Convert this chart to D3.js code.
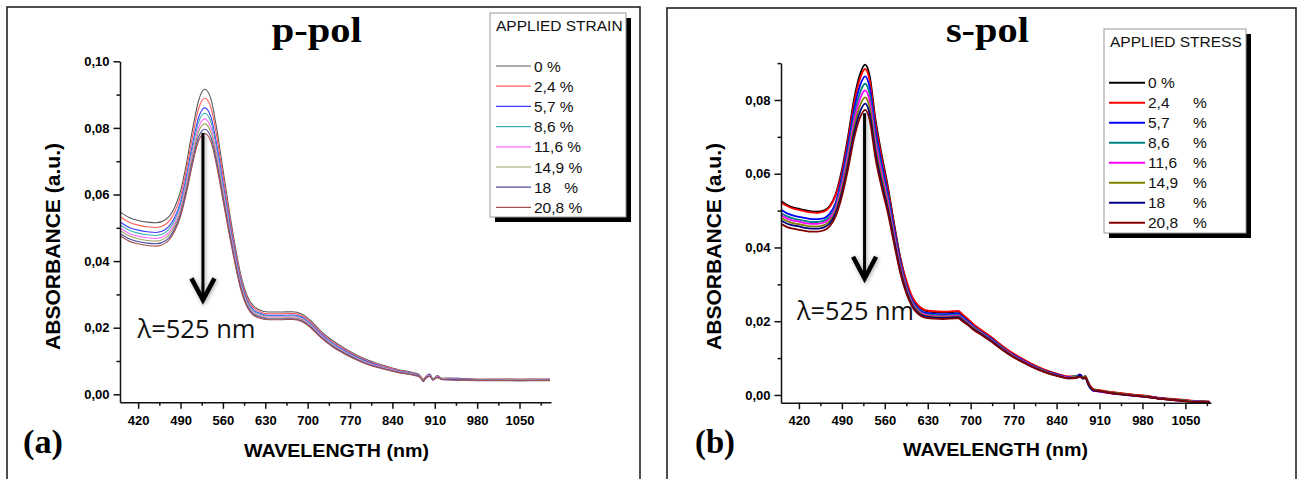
<!DOCTYPE html>
<html><head><meta charset="utf-8">
<script src="https://cdn.jsdelivr.net/npm/d3@7"></script>
<style>body{margin:0;background:#fff}svg{display:block}</style>
</head><body>
<svg id="c" width="1299" height="479"></svg>
<script>
// ---------- p-pol (a) ----------
const P_WL = [390,405,420,435,450,465,480,490,500,510,520,530,540,550,560,570,580,590,600,610,620,635,655,675,690,705,720,740,760,780,800,825,850,875,885,891,896,902,907,914,922,935,960,990,1020,1050,1080,1100];
const P_0   = [.0548,.0531,.0522,.0517,.0515,.0524,.0560,.0610,.0695,.0797,.0883,.0916,.0888,.0795,.0676,.0557,.0448,.0355,.0296,.0266,.0254,.0247,.0247,.0248,.0241,.0221,.0193,.0163,.0139,.0119,.0102,.0087,.0074,.0065,.0058,.0043,.0055,.0061,.0043,.0056,.0048,.0049,.0047,.0045,.0046,.0045,.0046,.0046];
const P_2_4 = [.0534,.0517,.0508,.0503,.0501,.0510,.0546,.0595,.0677,.0776,.0859,.0889,.0862,.0773,.0658,.0543,.0437,.0346,.0289,.0260,.0249,.0242,.0242,.0243,.0237,.0217,.0189,.0159,.0136,.0116,.0099,.0085,.0072,.0063,.0057,.0047,.0052,.0058,.0046,.0054,.0047,.0048,.0046,.0045,.0045,.0045,.0045,.0045];
const P_5_7 = [.0518,.0501,.0493,.0488,.0486,.0495,.0530,.0578,.0658,.0753,.0832,.0860,.0834,.0748,.0637,.0527,.0425,.0337,.0282,.0254,.0244,.0237,.0237,.0238,.0232,.0212,.0185,.0155,.0132,.0113,.0097,.0082,.0070,.0062,.0056,.0040,.0053,.0059,.0044,.0053,.0046,.0047,.0045,.0044,.0044,.0044,.0044,.0045];
const P_8_6 = [.0509,.0493,.0484,.0479,.0477,.0486,.0522,.0569,.0648,.0741,.0818,.0844,.0819,.0735,.0626,.0518,.0418,.0332,.0278,.0251,.0241,.0235,.0235,.0236,.0229,.0210,.0182,.0153,.0130,.0111,.0095,.0081,.0069,.0061,.0055,.0045,.0050,.0055,.0047,.0052,.0047,.0046,.0045,.0043,.0044,.0043,.0044,.0044];
const P_11_6= [.0500,.0483,.0475,.0470,.0468,.0477,.0512,.0559,.0636,.0727,.0802,.0827,.0802,.0720,.0614,.0509,.0411,.0326,.0273,.0247,.0237,.0232,.0232,.0233,.0226,.0207,.0180,.0150,.0128,.0109,.0093,.0080,.0068,.0060,.0055,.0042,.0054,.0057,.0042,.0054,.0045,.0046,.0044,.0042,.0043,.0042,.0043,.0043];
const P_14_9= [.0492,.0476,.0467,.0462,.0460,.0469,.0505,.0551,.0626,.0716,.0789,.0812,.0788,.0708,.0604,.0501,.0404,.0322,.0270,.0244,.0235,.0229,.0229,.0230,.0224,.0205,.0177,.0148,.0126,.0107,.0092,.0078,.0067,.0059,.0054,.0044,.0051,.0056,.0045,.0051,.0046,.0045,.0043,.0043,.0042,.0043,.0042,.0043];
const P_18  = [.0483,.0467,.0459,.0454,.0452,.0461,.0496,.0542,.0616,.0703,.0774,.0796,.0773,.0694,.0593,.0492,.0398,.0316,.0265,.0241,.0232,.0226,.0226,.0227,.0221,.0202,.0175,.0146,.0124,.0106,.0090,.0077,.0066,.0058,.0053,.0038,.0052,.0054,.0043,.0052,.0044,.0044,.0043,.0042,.0042,.0041,.0042,.0042];
const P_20_8= [.0476,.0460,.0452,.0447,.0445,.0454,.0489,.0534,.0607,.0693,.0762,.0783,.0760,.0683,.0584,.0485,.0392,.0312,.0262,.0238,.0229,.0224,.0224,.0225,.0219,.0200,.0173,.0144,.0122,.0104,.0089,.0076,.0065,.0057,.0052,.0041,.0049,.0055,.0044,.0050,.0045,.0043,.0042,.0041,.0041,.0041,.0041,.0041];

// ---------- s-pol (b) ----------
const S_WL = [391,400,410,420,430,440,450,460,470,480,490,500,510,520,528,535,545,555,565,575,585,595,605,615,625,640,655,670,680,685,695,705,720,735,750,765,780,800,820,840,860,872,878,883,887,891,895,900,910,925,945,965,985,1005,1025,1045,1065,1080,1090];
const S_0   = [.0525,.0516,.0509,.0505,.0501,.0498,.0497,.0500,.0512,.0545,.0610,.0700,.0803,.0872,.0896,.0868,.0745,.0650,.0565,.0466,.0375,.0308,.0263,.0240,.0229,.0225,.0224,.0225,.0226,.0219,.0205,.0190,.0172,.0154,.0134,.0116,.0101,.0083,.0068,.0057,.0049,.0050,.0054,.0047,.0050,.0032,.0020,.0014,.0012,.0008,.0004,.0000,-.0003,-.0008,-.0011,-.0014,-.0017,-.0018,-.0019];
const S_2_4 = [.0522,.0513,.0506,.0502,.0498,.0495,.0494,.0497,.0509,.0542,.0603,.0691,.0792,.0860,.0884,.0856,.0735,.0641,.0558,.0461,.0371,.0311,.0265,.0242,.0231,.0227,.0226,.0227,.0228,.0221,.0207,.0191,.0173,.0155,.0135,.0117,.0102,.0084,.0069,.0058,.0050,.0051,.0056,.0046,.0052,.0035,.0024,.0016,.0013,.0009,.0005,.0001,-.0002,-.0007,-.0010,-.0013,-.0016,-.0017,-.0018];
const S_5_7 = [.0502,.0493,.0487,.0483,.0480,.0477,.0477,.0479,.0491,.0522,.0591,.0677,.0775,.0841,.0864,.0837,.0718,.0627,.0546,.0452,.0364,.0298,.0256,.0234,.0223,.0220,.0219,.0220,.0221,.0214,.0201,.0186,.0168,.0151,.0131,.0113,.0099,.0081,.0066,.0056,.0048,.0049,.0055,.0049,.0048,.0038,.0022,.0012,.0010,.0006,.0002,-.0001,-.0004,-.0008,-.0012,-.0015,-.0017,-.0018,-.0019];
const S_8_6 = [.0493,.0485,.0479,.0475,.0472,.0469,.0469,.0472,.0483,.0514,.0580,.0663,.0758,.0822,.0844,.0818,.0701,.0613,.0535,.0443,.0357,.0294,.0252,.0231,.0220,.0217,.0216,.0217,.0218,.0211,.0198,.0184,.0167,.0149,.0130,.0112,.0097,.0080,.0065,.0055,.0047,.0052,.0050,.0045,.0051,.0030,.0018,.0015,.0011,.0007,.0003,-.0001,-.0004,-.0009,-.0012,-.0015,-.0018,-.0018,-.0019];
const S_11_6= [.0487,.0479,.0473,.0470,.0466,.0464,.0464,.0467,.0478,.0508,.0569,.0650,.0743,.0805,.0826,.0800,.0685,.0600,.0524,.0435,.0351,.0289,.0248,.0227,.0218,.0214,.0213,.0214,.0215,.0209,.0196,.0182,.0165,.0147,.0128,.0111,.0096,.0079,.0064,.0054,.0047,.0048,.0052,.0046,.0047,.0033,.0021,.0011,.0009,.0005,.0002,-.0002,-.0005,-.0009,-.0013,-.0016,-.0018,-.0019,-.0020];
const S_14_9= [.0480,.0472,.0466,.0463,.0460,.0457,.0457,.0460,.0471,.0501,.0558,.0637,.0727,.0787,.0807,.0782,.0669,.0587,.0513,.0426,.0345,.0285,.0245,.0225,.0215,.0212,.0211,.0212,.0213,.0207,.0194,.0180,.0163,.0146,.0127,.0110,.0095,.0078,.0064,.0053,.0046,.0049,.0051,.0048,.0049,.0036,.0023,.0013,.0011,.0007,.0003,-.0001,-.0004,-.0009,-.0012,-.0015,-.0018,-.0018,-.0019];
const S_18  = [.0473,.0465,.0460,.0457,.0453,.0451,.0451,.0454,.0465,.0494,.0548,.0624,.0712,.0770,.0790,.0765,.0655,.0574,.0503,.0419,.0339,.0281,.0242,.0222,.0213,.0210,.0209,.0210,.0211,.0205,.0192,.0178,.0162,.0145,.0126,.0108,.0094,.0077,.0063,.0053,.0045,.0047,.0053,.0044,.0046,.0031,.0019,.0012,.0010,.0006,.0001,-.0002,-.0005,-.0010,-.0013,-.0016,-.0019,-.0019,-.0020];
const S_20_8= [.0464,.0456,.0451,.0448,.0445,.0443,.0443,.0446,.0457,.0485,.0538,.0612,.0697,.0754,.0773,.0748,.0640,.0562,.0493,.0411,.0333,.0276,.0238,.0219,.0210,.0207,.0206,.0207,.0208,.0202,.0190,.0176,.0160,.0143,.0124,.0107,.0093,.0076,.0062,.0052,.0045,.0046,.0049,.0045,.0048,.0034,.0022,.0014,.0011,.0006,.0002,-.0002,-.0005,-.0010,-.0013,-.0016,-.0019,-.0019,-.0020];

// ---------- labels & ticks ----------
const P_LEGEND = ["0 %","2,4 %","5,7 %","8,6 %","11,6 %","14,9 %","18   %","20,8 %"];
const S_LEGEND = ["0","2,4","5,7","8,6","11,6","14,9","18","20,8"];
const X_TICKS = [420,490,560,630,700,770,840,910,980,1050];
const X_MINOR = [455,525,595,665,735,805,875,945,1015,1085];
const P_Y_TICKS = [0,0.02,0.04,0.06,0.08,0.10];
const S_Y_TICKS = [0,0.02,0.04,0.06,0.08];
const Y_MINOR = [0.01,0.03,0.05,0.07,0.09];
const P_COLORS = ["#5a5a5a","#ff5c5c","#3c3cff","#3fb3b3","#ff6cff","#a3a363","#4a4aa0","#a35050"];
const S_COLORS = ["#000000","#ff0000","#0000ff","#008080","#ff00ff","#808000","#000080","#800000"];
const ARROW_NM = 527;

const svg = d3.select("#c");
svg.append("rect").attr("width",1299).attr("height",479).attr("fill","#fff");
const SANS = "'Liberation Sans', Arial, sans-serif";
const SERIF = "'Liberation Serif', 'Times New Roman', serif";
const fmtY = d => d3.format(".2f")(d).replace(".", ",");

function panel(cfg){
  const g = svg.append("g");
  g.append("rect").attr("x",cfg.frame[0]).attr("y",cfg.frame[1]).attr("width",cfg.frame[2]).attr("height",cfg.frame[3])
    .attr("fill","none").attr("stroke","#222").attr("stroke-width",1.6);
  const x = d3.scaleLinear().domain(cfg.xDomain).range(cfg.xRange);
  const y = d3.scaleLinear().domain(cfg.yDomain).range(cfg.yRange);

  // series
  const line = d3.line().x((d,j)=>x(cfg.wl[j])).y(d=>y(d)).curve(d3.curveMonotoneX);
  cfg.series.forEach((vals,i)=>{
    g.append("path").attr("d",line(vals)).attr("fill","none")
      .attr("stroke",cfg.colors[i]).attr("stroke-width",cfg.lw).attr("stroke-linejoin","round");
  });

  // axes
  const styleAxis = a => {
    a.attr("font-family",SANS).attr("font-size",13).attr("font-weight","bold");
    a.selectAll("path,line").attr("stroke","#111").attr("stroke-width",1.5);
    a.selectAll("text").attr("fill","#000");
  };
  const y0 = cfg.yRange[0], x0 = cfg.xRange[0];
  const ax = g.append("g").attr("transform",`translate(0,${y0})`)
    .call(d3.axisBottom(x).tickValues(X_TICKS).tickSize(6.5).tickSizeOuter(0).tickPadding(7).tickFormat(d3.format("d")));
  styleAxis(ax);
  const axm = g.append("g").attr("transform",`translate(0,${y0})`)
    .call(d3.axisBottom(x).tickValues(X_MINOR).tickSize(3.5).tickSizeOuter(0).tickFormat(""));
  axm.select(".domain").remove(); styleAxis(axm);
  const ay = g.append("g").attr("transform",`translate(${x0},0)`)
    .call(d3.axisLeft(y).tickValues(cfg.yTicks).tickSize(6.5).tickSizeOuter(0).tickPadding(4).tickFormat(fmtY));
  styleAxis(ay);
  const aym = g.append("g").attr("transform",`translate(${x0},0)`)
    .call(d3.axisLeft(y).tickValues(Y_MINOR).tickSize(3.5).tickSizeOuter(0).tickFormat(""));
  aym.select(".domain").remove(); styleAxis(aym);

  // axis titles
  g.append("text").attr("transform",`translate(${cfg.yTitle[0]},${cfg.yTitle[1]}) rotate(-90)`)
    .attr("text-anchor","middle").attr("font-family",SANS).attr("font-weight","bold").attr("font-size",20)
    .attr("textLength",207).attr("lengthAdjust","spacingAndGlyphs").text("ABSORBANCE (a.u.)");
  g.append("text").attr("x",cfg.xTitle[0]).attr("y",cfg.xTitle[1])
    .attr("text-anchor","middle").attr("font-family",SANS).attr("font-weight","bold").attr("font-size",18)
    .attr("textLength",185).attr("lengthAdjust","spacingAndGlyphs").text("WAVELENGTH (nm)");

  // titles
  g.append("text").attr("x",cfg.title[0]).attr("y",cfg.title[1]).attr("text-anchor","middle")
    .attr("font-family",SERIF).attr("font-weight","bold").attr("font-size",35)
    .attr("textLength",cfg.title[2]).attr("lengthAdjust","spacingAndGlyphs").text(cfg.titleText);
  g.append("text").attr("x",cfg.tag[0]).attr("y",cfg.tag[1])
    .attr("font-family",SERIF).attr("font-weight","bold").attr("font-size",33)
    .attr("textLength",40).attr("lengthAdjust","spacingAndGlyphs").text(cfg.tagText);

  // arrow
  const ax0 = x(ARROW_NM);
  const defsId = "sh"+cfg.id;
  const f = svg.append("defs").append("filter").attr("id",defsId).attr("x","-50%").attr("y","-20%").attr("width","200%").attr("height","140%");
  f.append("feDropShadow").attr("dx",1).attr("dy",1).attr("stdDeviation",2).attr("flood-color","#000").attr("flood-opacity",0.35);
  const ag = g.append("g").attr("filter",`url(#${defsId})`);
  ag.append("line").attr("x1",ax0).attr("x2",ax0).attr("y1",y(cfg.arrow[0])).attr("y2",y(cfg.arrow[1])-3)
    .attr("stroke","#000").attr("stroke-width",3);
  ag.append("path").attr("d",`M${ax0-11.5},${y(cfg.arrow[2])} L${ax0},${y(cfg.arrow[1])} L${ax0+11.5},${y(cfg.arrow[2])}`)
    .attr("fill","none").attr("stroke","#000").attr("stroke-width",4.5).attr("stroke-linejoin","miter").attr("stroke-linecap","butt");
  g.append("text").attr("x",cfg.lam[0]).attr("y",cfg.lam[1]).attr("font-family","'Open Sans', sans-serif")
    .attr("font-size",25).attr("fill","#111").attr("textLength",cfg.lam[2]).attr("lengthAdjust","spacingAndGlyphs").text("λ=525 nm");

  // legend
  const L = cfg.legend;
  g.append("rect").attr("x",L.x+5).attr("y",L.y+5).attr("width",L.w).attr("height",L.h).attr("fill","#000");
  g.append("rect").attr("x",L.x).attr("y",L.y).attr("width",L.w).attr("height",L.h).attr("fill","#fff").attr("stroke","#9a9a9a").attr("stroke-width",1);
  g.append("text").attr("x",L.x+6).attr("y",L.titleY).attr("font-family",SANS).attr("font-size",15.5).attr("fill","#111").text(L.title);
  cfg.colors.forEach((c,i)=>{
    const yy = L.row0 + i*L.step;
    g.append("line").attr("x1",L.lx1).attr("x2",L.lx2).attr("y1",yy).attr("y2",yy).attr("stroke",c).attr("stroke-width",cfg.legLw);
    if (L.pctX && i>0){
      g.append("text").attr("x",L.tx).attr("y",yy+5.5).attr("font-family",SANS).attr("font-size",15.5).attr("fill","#111").text(L.labels[i]);
      g.append("text").attr("x",L.pctX).attr("y",yy+5.5).attr("font-family",SANS).attr("font-size",15.5).attr("fill","#111").text("%");
    } else {
      g.append("text").attr("x",L.tx).attr("y",yy+5.5).attr("font-family",SANS).attr("font-size",15.5).attr("fill","#111")
        .style("white-space","pre").text(L.pctX ? L.labels[i]+" %" : L.labels[i]);
    }
  });
}

panel({
  id:"a", frame:[7,7,633,490],
  xDomain:[390,1102], xRange:[120,551], yDomain:[-0.0024,0.1], yRange:[402.3,61.3],
  wl:P_WL, series:[P_0,P_2_4,P_5_7,P_8_6,P_11_6,P_14_9,P_18,P_20_8], colors:P_COLORS, lw:1.1, legLw:1.2,
  yTicks:P_Y_TICKS, yTitle:[60,246.5], xTitle:[336.5,457],
  title:[316.7,42,90], titleText:"p-pol", tag:[23,453], tagText:"(a)",
  arrow:[0.0785,0.0283,0.0348], lam:[137.5,338,118],
  legend:{x:490,y:13,w:136,h:204,title:"APPLIED STRAIN",titleY:31,row0:66,step:20.2,lx1:496,lx2:531,tx:534,labels:P_LEGEND}
});
panel({
  id:"b", frame:[667,8,629,490],
  xDomain:[390.8,1091.7], xRange:[781,1211], yDomain:[-0.0021,0.09], yRange:[402.7,63.1],
  wl:S_WL, series:[S_0,S_2_4,S_5_7,S_8_6,S_11_6,S_14_9,S_18,S_20_8], colors:S_COLORS, lw:1.8, legLw:2,
  yTicks:S_Y_TICKS, yTitle:[721,246.5], xTitle:[995.5,456],
  title:[987.4,42,83], titleText:"s-pol", tag:[695,453], tagText:"(b)",
  arrow:[0.0764,0.0316,0.0375], lam:[797,320,117],
  legend:{x:1104,y:29,w:142,h:204,title:"APPLIED STRESS",titleY:47,row0:82.7,step:20,lx1:1109,lx2:1145,tx:1148,pctX:1193,labels:S_LEGEND}
});
</script>
</body></html>
